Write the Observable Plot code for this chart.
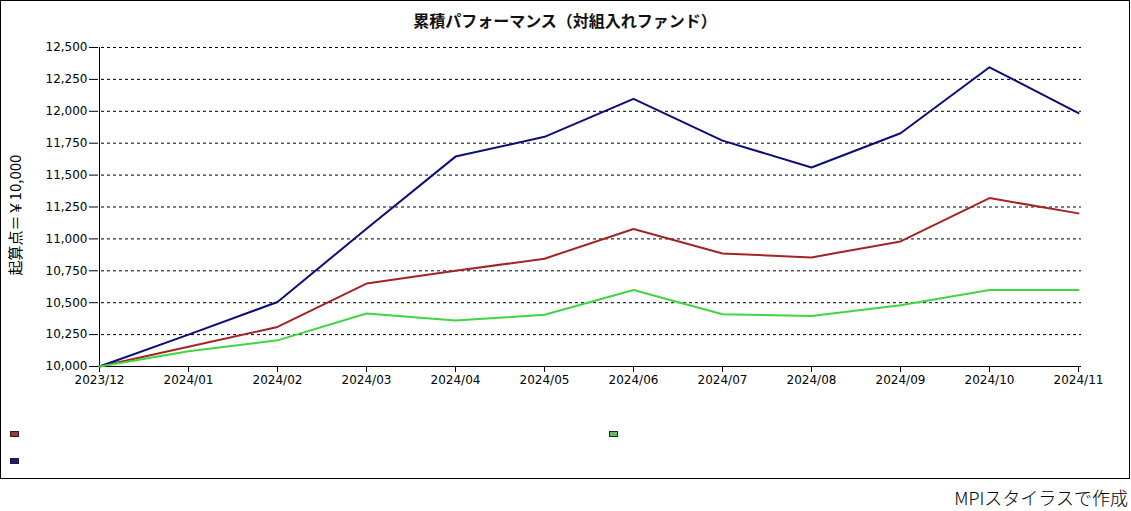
<!DOCTYPE html>
<html>
<head>
<meta charset="utf-8">
<script src="https://cdn.jsdelivr.net/npm/d3@7"></script>
<script src="https://cdn.jsdelivr.net/npm/@observablehq/plot@0.6"></script>
<style>
  html, body { margin: 0; padding: 0; background: #fff; }
  #frame { position: absolute; left: 0; top: 0; width: 1128px; height: 477px; border: 1px solid #000; }
  #title { height: 36px; line-height: 38px; text-align: center; font-family: "Noto Sans CJK JP", sans-serif; font-weight: bold; font-size: 16px; color: #111; }
  #legend { position: relative; height: 78px; }
  .sw { position: absolute; width: 7px; height: 4px; border: 1px solid #222; }
  #caption { position: absolute; right: 3px; top: 485px; font-family: "Noto Sans CJK JP", sans-serif; font-size: 18px; font-weight: 300; color: #000; line-height: 24px; }
  #chart svg text { font-family: "DejaVu Sans", Verdana, sans-serif; font-size: 12px; }
  #chart svg text.ylab { font-family: "Noto Sans CJK JP", sans-serif; font-size: 15px; }
</style>
</head>
<body>
<div id="frame">
  <div id="title"></div>
  <div id="chart"></div>
  <div id="legend"></div>
</div>
<div id="caption"></div>
<script>
const titleText = "累積パフォーマンス（対組入れファンド）";
const yLabel = "起算点＝￥10,000";
const captionText = "MPIスタイラスで作成";

const months = ["2023/12","2024/01","2024/02","2024/03","2024/04","2024/05","2024/06","2024/07","2024/08","2024/09","2024/10","2024/11"];
const seriesNames = ["ファンドA", "ファンドB", "ファンドC"];
const seriesColors = ["#a32424", "#0c0c7a", "#3fd63f"];
const swatchColors = ["#a83434", "#1a1a8e", "#5cbf5c"];

const fundA = [10000, 10155, 10310, 10650, 10750, 10845, 11078, 10885, 10855, 10980, 11320, 11200];
const fundB = [10000, 10250, 10505, 11080, 11645, 11800, 12098, 11770, 11560, 11828, 12345, 11985];
const fundC = [10000, 10120, 10205, 10415, 10360, 10405, 10600, 10410, 10395, 10480, 10600, 10600];

const yTicks = [10000, 10250, 10500, 10750, 11000, 11250, 11500, 11750, 12000, 12250, 12500];

const allSeries = [fundA, fundB, fundC];
const data = [];
allSeries.forEach((vals, i) => vals.forEach((v, j) => data.push({month: months[j], value: v, series: seriesNames[i]})));

document.getElementById("title").textContent = titleText;
document.getElementById("caption").textContent = captionText;

const fmt = d3.format(",");
const chart = Plot.plot({
  width: 1128,
  height: 363,
  marginLeft: 94,
  marginRight: 48,
  marginTop: 10,
  marginBottom: 34,
  style: { fontFamily: "'DejaVu Sans', Verdana, sans-serif", fontSize: "12px", color: "#000", background: "transparent" },
  x: { type: "point", domain: months, padding: 0, label: null },
  y: { domain: [10000, 12500], label: null },
  color: { domain: seriesNames, range: seriesColors },
  marks: [
    Plot.ruleY(yTicks.slice(1), { stroke: "#000", strokeWidth: 1, strokeDasharray: "3,3" }),
    Plot.ruleY([10000], { stroke: "#000", strokeWidth: 1 }),
    Plot.ruleX([months[0]], { stroke: "#000", strokeWidth: 1 }),
    Plot.axisY({ ticks: yTicks, tickFormat: fmt, tickSize: 6, tickPadding: 2, label: null }),
    Plot.axisX({ tickSize: 6, tickPadding: 3, label: null }),
    Plot.line(data, { x: "month", y: "value", stroke: "series", strokeWidth: 2 }),
    Plot.text([yLabel], { frameAnchor: "left", rotate: -90, dx: -79, dy: 8, textAnchor: "middle", fill: "#000", className: "ylabwrap" })
  ]
});
chart.querySelectorAll("g.ylabwrap text, .ylabwrap text").forEach(t => t.classList.add("ylab"));
document.getElementById("chart").appendChild(chart);

const legend = document.getElementById("legend");
const swPos = [[9, 31], [9, 58], [608, 31]];
seriesNames.forEach((n, i) => {
  const s = document.createElement("div");
  s.className = "sw";
  s.style.left = swPos[i][0] + "px";
  s.style.top = swPos[i][1] + "px";
  s.style.background = swatchColors[i];
  s.title = n;
  legend.appendChild(s);
});
</script>
</body>
</html>
